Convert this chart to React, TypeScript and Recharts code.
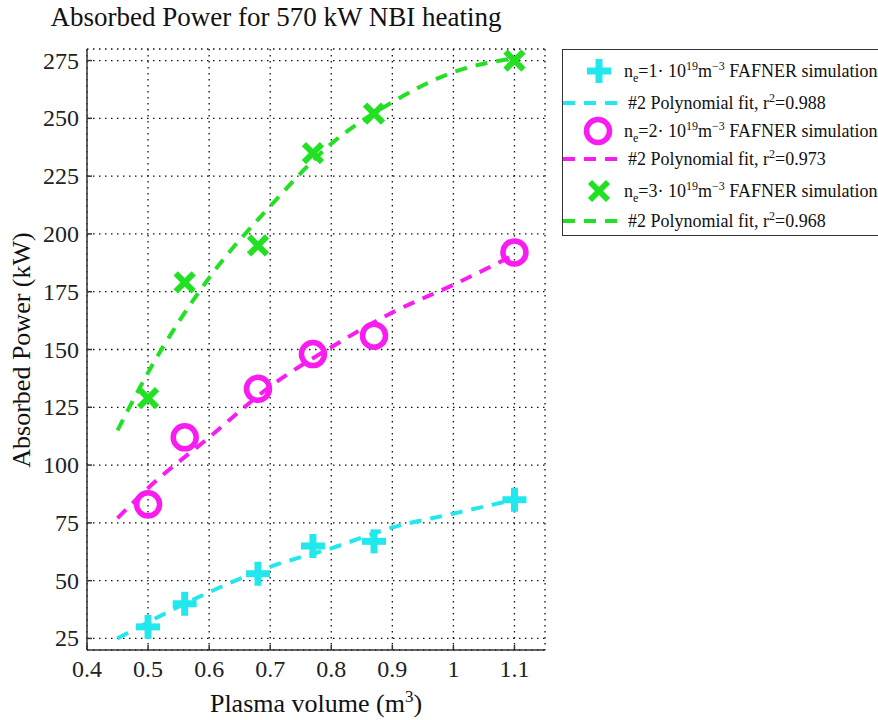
import React from "react";
import { ComposedChart, Scatter, Line, XAxis, YAxis, CartesianGrid } from "recharts";

// plasma volumes of the FAFNER runs (m^3)
const volumes = [0.5, 0.56, 0.68, 0.77, 0.87, 1.1];
const powerNe1 = [30, 40, 53, 65, 67, 85];
const powerNe2 = [83, 112, 133, 148, 156, 192];
const powerNe3 = [129, 179, 195, 235, 252, 275];

// polynomial fit curves
const fitVolumes = [0.45, 0.5, 0.6, 0.7, 0.8, 0.9, 1.0, 1.1];
const fitNe1 = [25, 32, 45, 56, 64, 73, 79, 85];
const fitNe2 = [77, 90, 112, 134, 151, 166, 178, 191];
const fitNe3 = [115, 140, 181, 212, 239, 257, 270, 276];

const xTicks = [0.4, 0.5, 0.6, 0.7, 0.8, 0.9, 1, 1.1];
const yTicks = [25, 50, 75, 100, 125, 150, 175, 200, 225, 250, 275];

const CYAN = "#22e8ee";
const MAGENTA = "#f81cf0";
const GREEN = "#22e022";
const FONT = "Liberation Serif, Times New Roman, serif";

const toPoints = (xs: number[], ys: number[]) => xs.map((x, i) => ({ x, y: ys[i] }));

const sim1 = toPoints(volumes, powerNe1);
const sim2 = toPoints(volumes, powerNe2);
const sim3 = toPoints(volumes, powerNe3);
const fit1 = toPoints(fitVolumes, fitNe1);
const fit2 = toPoints(fitVolumes, fitNe2);
const fit3 = toPoints(fitVolumes, fitNe3);

function PlusMark({ cx, cy, color = CYAN }: any) {
  return (
    <g stroke={color} strokeWidth={7}>
      <line x1={cx - 12} y1={cy} x2={cx + 12} y2={cy} />
      <line x1={cx} y1={cy - 12} x2={cx} y2={cy + 12} />
    </g>
  );
}

function CircleMark({ cx, cy, color = MAGENTA }: any) {
  return <circle cx={cx} cy={cy} r={11.5} fill="none" stroke={color} strokeWidth={5.5} />;
}

function CrossMark({ cx, cy, color = GREEN }: any) {
  return (
    <g stroke={color} strokeWidth={6}>
      <line x1={cx - 9} y1={cy - 9} x2={cx + 9} y2={cy + 9} />
      <line x1={cx - 9} y1={cy + 9} x2={cx + 9} y2={cy - 9} />
    </g>
  );
}

function XTick({ x, y, payload }: any) {
  return (
    <text x={x} y={y + 17} textAnchor="middle" fontFamily={FONT} fontSize={24} fill="#222">
      {payload.value}
    </text>
  );
}

function YTick({ x, y, payload }: any) {
  return (
    <text x={x} y={y + 8} textAnchor="end" fontFamily={FONT} fontSize={24} fill="#222">
      {payload.value}
    </text>
  );
}

function DashSample({ color }: { color: string }) {
  return (
    <svg width={62} height={10} style={{ display: "block" }}>
      <line x1={0} y1={5} x2={60} y2={5} stroke={color} strokeWidth={4} strokeDasharray="12 9" />
    </svg>
  );
}

function MarkSample({ children }: { children: React.ReactNode }) {
  return (
    <svg width={62} height={32} style={{ display: "block" }}>
      {children}
    </svg>
  );
}

const supStyle = { fontSize: 12, verticalAlign: "0.55em", lineHeight: 0 };
const subStyle = { fontSize: 12, verticalAlign: "-0.4em", lineHeight: 0 };

function SimText({ n }: { n: number }) {
  return (
    <span>
      n<span style={subStyle}>e</span>={n}· 10<span style={supStyle}>19</span>m
      <span style={supStyle}>−3</span> FAFNER simulation
    </span>
  );
}

function FitText({ r2 }: { r2: string }) {
  return (
    <span>
      #2 Polynomial fit, r<span style={supStyle}>2</span>={r2}
    </span>
  );
}

const legendRows = [
  { y: 70, icon: <MarkSample><PlusMark cx={36} cy={16} /></MarkSample>, text: <SimText n={1} />, textX: 61 },
  { y: 102, icon: <DashSample color={CYAN} />, text: <FitText r2="0.988" />, textX: 65 },
  { y: 130, icon: <MarkSample><CircleMark cx={35} cy={16} /></MarkSample>, text: <SimText n={2} />, textX: 61 },
  { y: 158, icon: <DashSample color={MAGENTA} />, text: <FitText r2="0.973" />, textX: 65 },
  { y: 190, icon: <MarkSample><CrossMark cx={36} cy={16} /></MarkSample>, text: <SimText n={3} />, textX: 61 },
  { y: 220, icon: <DashSample color={GREEN} />, text: <FitText r2="0.968" />, textX: 65 },
];

function ChartLegend() {
  return (
    <div
      style={{
        position: "absolute",
        left: 562,
        top: 49,
        width: 330,
        height: 185,
        border: "1.5px solid #333",
        background: "#fff",
        fontFamily: FONT,
        fontSize: 18,
        color: "#111",
      }}
    >
      {legendRows.map((row, i) => (
        <div
          key={i}
          style={{
            position: "absolute",
            left: 0,
            top: row.y - 49 - 16,
            height: 32,
            width: 330,
            display: "flex",
            alignItems: "center",
          }}
        >
          <div style={{ width: row.textX, display: "flex", alignItems: "center" }}>{row.icon}</div>
          <div style={{ whiteSpace: "nowrap", lineHeight: "20px" }}>{row.text}</div>
        </div>
      ))}
    </div>
  );
}

export default function App() {
  return (
    <div
      style={{
        position: "absolute",
        left: 0,
        top: 0,
        width: 878,
        height: 720,
        background: "#fff",
        fontFamily: FONT,
        overflow: "hidden",
      }}
    >
      <div
        style={{
          position: "absolute",
          left: 0,
          width: 552,
          top: 2,
          textAlign: "center",
          fontSize: 27,
          color: "#111",
        }}
      >
        Absorbed Power for 570 kW NBI heating
      </div>
      <ComposedChart width={878} height={720} margin={{ top: 49, right: 333, bottom: 0, left: 0 }}>
        <CartesianGrid stroke="#111" strokeDasharray="1.5 4.5" strokeWidth={1.3} />
        <XAxis
          type="number"
          dataKey="x"
          domain={[0.4, 1.15]}
          ticks={xTicks}
          allowDataOverflow
          height={70}
          tick={<XTick />}
          tickSize={-5}
          tickMargin={15}
          stroke="#333"
          strokeWidth={1.5}
          label={{
            content: () => (
              <text x={316} y={712} textAnchor="middle" fontFamily={FONT} fontSize={26} fill="#111">
                Plasma volume (m
                <tspan dy={-10} fontSize={17}>3</tspan>
                <tspan dy={10}>)</tspan>
              </text>
            ),
          }}
        />
        <XAxis
          xAxisId="top"
          orientation="top"
          type="number"
          domain={[0.4, 1.15]}
          ticks={xTicks}
          allowDataOverflow
          height={0}
          tick={false}
          tickSize={-5}
          stroke="#333"
          strokeWidth={1.5}
        />
        <YAxis
          type="number"
          domain={[20, 280]}
          ticks={yTicks}
          allowDataOverflow
          width={87}
          tick={<YTick />}
          tickSize={-5}
          tickMargin={13}
          stroke="#333"
          strokeWidth={1.5}
          label={{
            content: () => (
              <text
                x={30}
                y={350}
                transform="rotate(-90 30 350)"
                textAnchor="middle"
                fontFamily={FONT}
                fontSize={26}
                fill="#111"
              >
                Absorbed Power (kW)
              </text>
            ),
          }}
        />
        <YAxis
          yAxisId="right"
          orientation="right"
          type="number"
          domain={[20, 280]}
          ticks={yTicks}
          allowDataOverflow
          width={0}
          tick={false}
          tickSize={-5}
          stroke="#333"
          strokeWidth={1.5}
        />
        <Line data={fit1} dataKey="y" type="monotone" stroke={CYAN} strokeWidth={4} strokeDasharray="12 9" dot={false} isAnimationActive={false} />
        <Line data={fit2} dataKey="y" type="monotone" stroke={MAGENTA} strokeWidth={4} strokeDasharray="12 9" dot={false} isAnimationActive={false} />
        <Line data={fit3} dataKey="y" type="monotone" stroke={GREEN} strokeWidth={4} strokeDasharray="12 9" dot={false} isAnimationActive={false} />
        <Scatter data={sim1} dataKey="y" shape={(p: any) => <PlusMark cx={p.cx} cy={p.cy} />} isAnimationActive={false} />
        <Scatter data={sim2} dataKey="y" shape={(p: any) => <CircleMark cx={p.cx} cy={p.cy} />} isAnimationActive={false} />
        <Scatter data={sim3} dataKey="y" shape={(p: any) => <CrossMark cx={p.cx} cy={p.cy} />} isAnimationActive={false} />
      </ComposedChart>
      <ChartLegend />
    </div>
  );
}
